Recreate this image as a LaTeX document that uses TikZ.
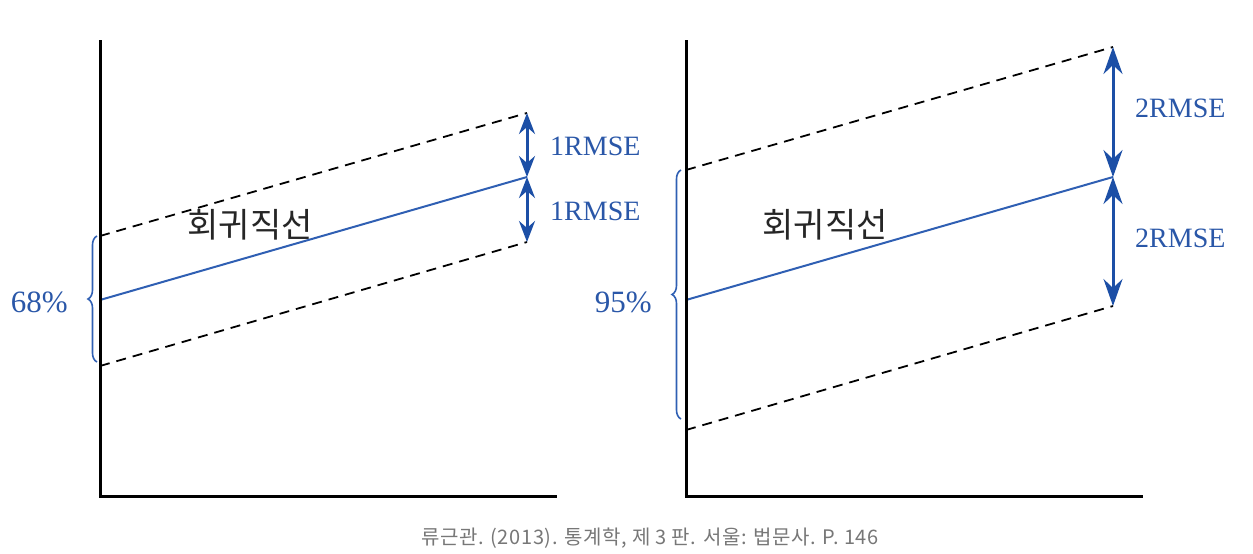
\documentclass[tikz,border=0pt]{standalone}
\usepackage{fontspec}
\setmainfont{Liberation Serif}
\newfontfamily\krfont{Noto Sans CJK KR}
\newfontfamily\capfont[LetterSpace=3]{Noto Sans CJK KR}
\usetikzlibrary{arrows.meta,decorations.pathreplacing}
\definecolor{lineblue}{HTML}{2F5FB3}
\definecolor{arrblue}{HTML}{1C4FA6}
\definecolor{labblue}{HTML}{2A57A8}
\definecolor{capgray}{HTML}{777777}
\begin{document}
\begin{tikzpicture}[x=1pt,y=-1pt,
  axisline/.style={line width=3pt,black},
  regline/.style={line width=2pt,lineblue},
  bandline/.style={line width=1.8pt,black,dash pattern=on 10pt off 7pt},
  smallarrow/.style={line width=3pt,arrblue,{Stealth[length=21pt,width=16pt,inset=7pt]}-{Stealth[length=21pt,width=16pt,inset=7pt]}},
  bigarrow/.style={line width=3pt,arrblue,{Stealth[length=27pt,width=19pt,inset=9pt]}-{Stealth[length=27pt,width=19pt,inset=9pt]}},
  bracestyle/.style={line width=1.6pt,lineblue,decorate,decoration={brace,amplitude=9pt}},
  rmselabel/.style={font=\fontsize{28}{30}\selectfont,labblue,anchor=west,inner sep=0pt},
  pctlabel/.style={font=\fontsize{31}{33}\selectfont,labblue,anchor=east,inner sep=0pt},
  krlabel/.style={font=\krfont\fontsize{34}{36}\selectfont,black!85,inner sep=0pt},
  caption/.style={font=\capfont\fontsize{20}{22}\selectfont,capgray,inner sep=0pt}]
\useasboundingbox (0,0) rectangle (1253,554);
% ---- left panel ----
\coordinate (LO) at (100,496);
\coordinate (LT) at (100,40);
\coordinate (LX) at (557,496);
\coordinate (LS0) at (100,300);
\coordinate (LS1) at (527,177);
\coordinate (LU0) at (100,236);
\coordinate (LU1) at (527,113);
\coordinate (LD0) at (100,366);
\coordinate (LD1) at (527,242);
\draw[bandline] (LU0) -- (LU1);
\draw[bandline] (LD0) -- (LD1);
\draw[regline] (LS0) -- (LS1);
\draw[axisline] (LT) -- (LO) -- (LX);
\draw[smallarrow] (LU1) -- (LS1);
\draw[smallarrow] (LS1) -- (LD1);
\coordinate (LB0) at (97,362);
\coordinate (LB1) at (97,236);
\draw[bracestyle] (LB0) -- (LB1);
\node[rmselabel] (l1) at (550,146) {1RMSE};
\node[rmselabel] (l2) at (550,211) {1RMSE};
\node[pctlabel] (p68) at (68,302) {68\%};
\node[krlabel] (kl) at (250,225) {회귀직선};
% ---- right panel ----
\coordinate (RO) at (686,496);
\coordinate (RT) at (686,40);
\coordinate (RX) at (1143,496);
\coordinate (RS0) at (686,300);
\coordinate (RS1) at (1113,177);
\coordinate (RU0) at (686,170);
\coordinate (RU1) at (1113,47);
\coordinate (RD0) at (686,430);
\coordinate (RD1) at (1113,306);
\draw[bandline] (RU0) -- (RU1);
\draw[bandline] (RD0) -- (RD1);
\draw[regline] (RS0) -- (RS1);
\draw[axisline] (RT) -- (RO) -- (RX);
\draw[bigarrow] (RU1) -- (RS1);
\draw[bigarrow] (RS1) -- (RD1);
\coordinate (RB0) at (681,419);
\coordinate (RB1) at (681,170);
\draw[bracestyle] (RB0) -- (RB1);
\node[rmselabel] (r1) at (1135,108) {2RMSE};
\node[rmselabel] (r2) at (1135,238) {2RMSE};
\node[pctlabel] (p95) at (652,302) {95\%};
\node[krlabel] (kr) at (825,225) {회귀직선};
% ---- caption ----
\node[caption] (cap) at (650,538) {류근관. (2013). 통계학, 제 3 판. 서울: 법문사. P. 146};
\end{tikzpicture}
\end{document}
